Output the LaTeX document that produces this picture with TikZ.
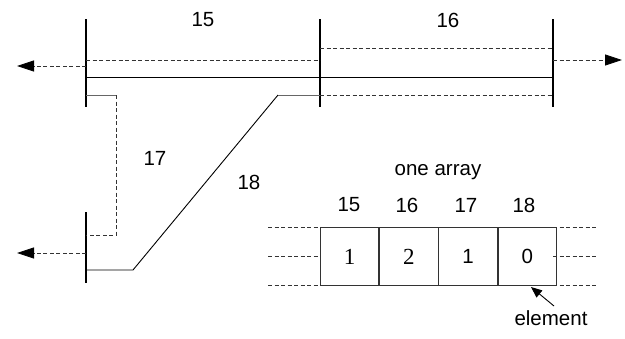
\documentclass[tikz,border=0pt]{standalone}
\usepackage{fontspec}
\setmainfont{Liberation Sans}
\newfontfamily\serifnum{Liberation Serif}
\usetikzlibrary{arrows.meta}
\begin{document}
\begin{tikzpicture}[x=1pt,y=-1pt,
  bar/.style={line width=1.3pt,black},
  solidln/.style={line width=0.9pt,black},
  grayln/.style={line width=0.9pt,black!60},
  dashln/.style={line width=0.8pt,black!80,dash pattern=on 4pt off 2.5pt},
  darr/.style={dashln,-{Triangle[length=17pt,width=11pt,color=black,fill=black]}},
  lbl/.style={font=\fontsize{20.5}{24}\selectfont,inner sep=0pt},
  cell/.style={draw=black!80,text=black,line width=0.9pt,minimum width=58.3pt,minimum height=58pt,inner sep=0pt,anchor=north west}]
\useasboundingbox (0,0) rectangle (625,338);
% vertical bars
\coordinate (b1t) at (86,19);  \coordinate (b1b) at (86,107);
\coordinate (b2t) at (320,19); \coordinate (b2b) at (320,107);
\coordinate (b3t) at (553,19); \coordinate (b3b) at (553,107);
\coordinate (b4t) at (86,212); \coordinate (b4b) at (86,283);
\draw[bar] (b1t) -- (b1b);
\draw[bar] (b2t) -- (b2b);
\draw[bar] (b3t) -- (b3b);
\draw[bar] (b4t) -- (b4b);
% main lines
\draw[solidln] (86,77) -- (553,77);
\draw[dashln] (86,60) -- (320,60);
\draw[dashln] (320,48) -- (553,48);
\draw[dashln] (320,95) -- (553,95);
% arrows
\coordinate (la1) at (17,66);
\coordinate (la2) at (17,253);
\coordinate (ra1) at (622,60);
\draw[darr] (86,66) -- (la1);
\draw[darr] (86,253) -- (la2);
\draw[darr] (553,60) -- (ra1);
% branch 17
\draw[grayln] (86,95) -- (116,95);
\draw[dashln] (116,95) -- (116,235) -- (86,235);
% branch 18
\draw[solidln] (86,270) -- (133,270) -- (278,95);
\draw[grayln] (278,95) -- (320,95);
% labels
\node[lbl] (t15) at (203,20) {15};
\node[lbl] (t16) at (448,20) {16};
\node[lbl] (t17) at (155,158) {17};
\node[lbl] (t18) at (249,182) {18};
% array
\draw[dashln] (268,227) -- (320,227) (268,256) -- (320,256) (268,285) -- (320,285);
\draw[dashln] (553,227) -- (598,227) (553,256) -- (598,256) (553,285) -- (598,285);
\node[cell] (c1) at (320,227) {\serifnum\fontsize{23}{26}\selectfont 1};
\node[cell] (c2) at (c1.north east) {\serifnum\fontsize{23}{26}\selectfont 2};
\node[cell] (c3) at (c2.north east) {\fontsize{20.5}{24}\selectfont 1};
\node[cell] (c4) at (c3.north east) {\fontsize{20.5}{24}\selectfont 0};
\node[lbl] (h1) at (349,205) {15};
\node[lbl] (h2) at (407,205) {16};
\node[lbl] (h3) at (466,205) {17};
\node[lbl] (h4) at (524,205) {18};
\node[lbl] (oa) at (438,172) {one array};
\node[lbl] (el) at (551,318) {element};
\coordinate (tip) at (531,287);
\coordinate (tail) at (554,306);
\draw[line width=0.9pt,-{Triangle[length=11pt,width=9pt]}] (tail) -- (tip);
\end{tikzpicture}
\end{document}
